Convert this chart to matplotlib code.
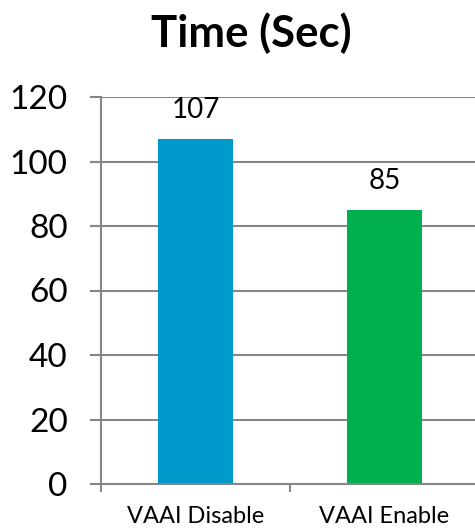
import matplotlib
matplotlib.use("Agg")
import matplotlib.pyplot as plt
from matplotlib.ticker import FixedLocator, MultipleLocator

categories = ["VAAI Disable", "VAAI Enable"]
times = [107, 85]
bar_colors = ["#0099CC", "#00B050"]
title = "Time (Sec)"

plt.rcParams["font.family"] = ["Lato", "DejaVu Sans"]

fig = plt.figure(figsize=(4.75, 5.32), dpi=100)
ax = fig.add_axes([101 / 475, 48 / 532, 378 / 475, 387 / 532])

x = list(range(len(categories)))
bars = ax.bar(x, times, width=0.40, color=bar_colors, zorder=3)

ax.set_xlim(-0.5, len(categories) - 0.5)
ax.set_ylim(0, 120)
ax.yaxis.set_major_locator(MultipleLocator(20))

grid_color = "#868686"
ax.grid(axis="y", color=grid_color, linewidth=1.5, zorder=0)
for side in ["top", "right", "bottom"]:
    ax.spines[side].set_visible(False)
ax.spines["left"].set_color(grid_color)
ax.spines["left"].set_linewidth(1.5)
ax.axhline(0, color=grid_color, linewidth=1.5, zorder=4, clip_on=False)

ax.tick_params(axis="y", direction="out", length=8, width=1.5, color=grid_color,
               labelsize=24, pad=16, labelcolor="black")

# Category labels centred under bars, tick marks on category boundaries
ax.set_xticks(x)
ax.set_xticklabels(categories, fontsize=17)
ax.tick_params(axis="x", which="major", length=0, pad=16)
ax.xaxis.set_minor_locator(FixedLocator([-0.5, 0.5, 1.5]))
ax.tick_params(axis="x", which="minor", direction="out", length=6, width=1.5,
               color=grid_color)

for rect, v in zip(bars, times):
    ax.annotate(f"{v}", (rect.get_x() + rect.get_width() / 2, v),
                xytext=(0, 21), textcoords="offset points",
                ha="center", va="center", fontsize=20)

fig.text(251 / 475, 1 - 33 / 532, title, ha="center", va="center",
         fontsize=31.5, fontweight="bold")

fig.savefig("out.png", dpi=100)
